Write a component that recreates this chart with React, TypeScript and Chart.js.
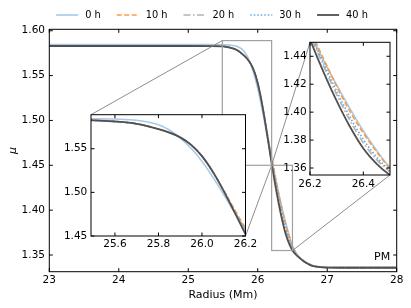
import React, { useEffect, useRef } from "react";
import { Chart, registerables } from "chart.js";

Chart.register(...registerables);

// ---------------- data ----------------
const RADIUS_MM = [23, 24, 25, 25.3, 25.5, 25.6, 25.7, 25.8, 25.85, 25.9, 25.95, 26.0, 26.05, 26.1, 26.15, 26.2, 26.25, 26.3, 26.35, 26.4, 26.45, 26.5, 26.55, 26.6, 26.65, 26.7, 26.75, 26.8, 26.9, 27.0, 27.5, 28.0];

const MU_0H = [1.5845, 1.5845, 1.5845, 1.5845, 1.5843, 1.584, 1.5826, 1.5775, 1.5715, 1.5625, 1.5505, 1.5355, 1.5175, 1.4975, 1.477, 1.4565, 1.4375, 1.4195, 1.4025, 1.3865, 1.3725, 1.3605, 1.3527, 1.3476, 1.3442, 1.3416, 1.3396, 1.3381, 1.3368, 1.3364, 1.3362, 1.3362];
const MU_10H = [1.5832, 1.5832, 1.5832, 1.5831, 1.5827, 1.5813, 1.5786, 1.5726, 1.5686, 1.5631, 1.5546, 1.5416, 1.5236, 1.5025, 1.48, 1.459, 1.4385, 1.4185, 1.4005, 1.385, 1.3715, 1.3598, 1.3522, 1.3473, 1.344, 1.3414, 1.3392, 1.3378, 1.3366, 1.3362, 1.336, 1.336];
const MU_20H = [1.5831, 1.5831, 1.5831, 1.583, 1.5826, 1.5812, 1.5785, 1.5725, 1.5685, 1.563, 1.5545, 1.5415, 1.5235, 1.5018, 1.478, 1.455, 1.4335, 1.4125, 1.394, 1.378, 1.366, 1.3572, 1.3513, 1.3472, 1.3439, 1.3413, 1.3391, 1.3377, 1.3365, 1.3361, 1.3359, 1.3359];
const MU_30H = [1.5831, 1.5831, 1.5831, 1.583, 1.5826, 1.5812, 1.5785, 1.5725, 1.5685, 1.563, 1.5545, 1.5415, 1.5235, 1.502, 1.4785, 1.4565, 1.4355, 1.415, 1.3965, 1.3805, 1.3678, 1.3582, 1.3516, 1.3472, 1.3439, 1.3413, 1.3391, 1.3377, 1.3365, 1.3361, 1.3359, 1.3359];
const MU_40H = [1.583, 1.583, 1.583, 1.5829, 1.5826, 1.5812, 1.5785, 1.5725, 1.5685, 1.563, 1.5545, 1.5415, 1.5235, 1.5015, 1.477, 1.452, 1.429, 1.408, 1.3895, 1.374, 1.363, 1.355, 1.3503, 1.3468, 1.3437, 1.3411, 1.339, 1.3376, 1.3364, 1.336, 1.3358, 1.3358];

const SERIES_LABELS = ["0 h", "10 h", "20 h", "30 h", "40 h"];
const SERIES_VALUES = [MU_0H, MU_10H, MU_20H, MU_30H, MU_40H];

const MAIN_X_TICKS = [23, 24, 25, 26, 27, 28];
const MAIN_Y_TICKS = [1.35, 1.4, 1.45, 1.5, 1.55, 1.6];
const LEFT_X_TICKS = [25.6, 25.8, 26.0, 26.2];
const LEFT_Y_TICKS = [1.45, 1.5, 1.55];
const RIGHT_X_TICKS = [26.2, 26.4];
const RIGHT_Y_TICKS = [1.36, 1.38, 1.4, 1.42, 1.44];

const MAIN_RANGE = { xMin: 23, xMax: 28, yMin: 1.3314, yMax: 1.6016 };
const LEFT_RANGE = { xMin: 25.49, xMax: 26.2, yMin: 1.45, yMax: 1.589 };
const RIGHT_RANGE = { xMin: 26.2, xMax: 26.5, yMin: 1.355, yMax: 1.45 };

// ---------------- styles ----------------
const COLORS = ["#a6c9ec", "#ff9a3c", "#b3b3b3", "#6aa6dc", "#505050"];
const DASHES: number[][] = [[], [5, 2.5], [7, 2.5, 1.5, 2.5], [1.5, 2], []];
const WIDTHS = [1.6, 1.6, 1.6, 1.6, 1.8];
const FONT = "DejaVu Sans";

type Spec = {
  main: boolean;
  range: { xMin: number; xMax: number; yMin: number; yMax: number };
  xTicks: number[];
  yTicks: number[];
  xDec: number;
  yDec: number;
  canvas: { x: number; y: number; w: number; h: number };
  pad: { top: number; right: number; left: number; bottom: number };
  leftW: number;
  bottomH: number;
  xPad: number;
  yPad: number;
};

const MAIN_SPEC: Spec = {
  main: true, range: MAIN_RANGE, xTicks: MAIN_X_TICKS, yTicks: MAIN_Y_TICKS, xDec: 0, yDec: 2,
  canvas: { x: 0, y: 0, w: 411, h: 308 },
  pad: { top: 29.3, right: 14.3, left: 0, bottom: 0 }, leftW: 49.3, bottomH: 36.3, xPad: 2.6, yPad: 4.3,
};
const LEFT_SPEC: Spec = {
  main: false, range: LEFT_RANGE, xTicks: LEFT_X_TICKS, yTicks: LEFT_Y_TICKS, xDec: 1, yDec: 2,
  canvas: { x: 55, y: 100, w: 207, h: 156 },
  pad: { top: 14.7, right: 16.5, left: 0, bottom: 0 }, leftW: 36, bottomH: 20, xPad: 1.6, yPad: 3.7,
};
const RIGHT_SPEC: Spec = {
  main: false, range: RIGHT_RANGE, xTicks: RIGHT_X_TICKS, yTicks: RIGHT_Y_TICKS, xDec: 1, yDec: 2,
  canvas: { x: 278, y: 30, w: 122, h: 165 },
  pad: { top: 12.3, right: 10, left: 0, bottom: 0 }, leftW: 32, bottomH: 20, xPad: 2.6, yPad: 3.3,
};

function boxOf(s: Spec) {
  return {
    left: s.canvas.x + s.leftW,
    top: s.canvas.y + s.pad.top,
    right: s.canvas.x + s.canvas.w - s.pad.right,
    bottom: s.canvas.y + s.canvas.h - s.bottomH,
  };
}

const TICK_LEN = 3.5;

function drawFrame(chart: any) {
  const { ctx, chartArea: a, scales } = chart;
  ctx.save();
  ctx.strokeStyle = "#000";
  ctx.lineWidth = 1;
  ctx.setLineDash([]);
  ctx.beginPath();
  for (const t of scales.x.ticks) {
    const px = scales.x.getPixelForValue(t.value);
    ctx.moveTo(px, a.bottom);
    ctx.lineTo(px, a.bottom - TICK_LEN);
    ctx.moveTo(px, a.top);
    ctx.lineTo(px, a.top + TICK_LEN);
  }
  for (const t of scales.y.ticks) {
    const py = scales.y.getPixelForValue(t.value);
    ctx.moveTo(a.left, py);
    ctx.lineTo(a.left + TICK_LEN, py);
    ctx.moveTo(a.right, py);
    ctx.lineTo(a.right - TICK_LEN, py);
  }
  ctx.stroke();
  ctx.strokeRect(a.left, a.top, a.right - a.left, a.bottom - a.top);
  ctx.restore();
}

function drawInsetMarks(chart: any) {
  const { ctx, scales } = chart;
  const x = scales.x;
  const y = scales.y;
  for (const spec of [LEFT_SPEC, RIGHT_SPEC]) {
    const r = spec.range;
    const x0 = x.getPixelForValue(r.xMin);
    const x1 = x.getPixelForValue(r.xMax);
    const y0 = y.getPixelForValue(r.yMax);
    const y1 = y.getPixelForValue(r.yMin);
    const b = boxOf(spec);
    ctx.save();
    ctx.setLineDash([]);
    ctx.strokeStyle = "#a0a0a0";
    ctx.lineWidth = 1.2;
    ctx.strokeRect(x0, y0, x1 - x0, y1 - y0);
    ctx.strokeStyle = "#808080";
    ctx.lineWidth = 0.9;
    ctx.beginPath();
    ctx.moveTo(x0, y0);
    ctx.lineTo(b.left, b.top);
    ctx.moveTo(x1, y1);
    ctx.lineTo(b.right, b.bottom);
    ctx.stroke();
    ctx.restore();
  }
}

const LEGEND_CENTER_X = 212;
const LEGEND_Y = 15;
const LEGEND_LINE = 22;
const LEGEND_GAP = 7;
const LEGEND_SPACING = 16;

function drawLegend(chart: any) {
  const { ctx } = chart;
  const ds = chart.data.datasets;
  ctx.save();
  ctx.font = `9.8px "${FONT}"`;
  ctx.textBaseline = "middle";
  ctx.textAlign = "left";
  const widths = ds.map((d: any) => LEGEND_LINE + LEGEND_GAP + ctx.measureText(d.label).width);
  const total = widths.reduce((s: number, w: number) => s + w, 0) + LEGEND_SPACING * (ds.length - 1);
  let cx = LEGEND_CENTER_X - total / 2;
  ds.forEach((d: any, i: number) => {
    ctx.strokeStyle = d.borderColor;
    ctx.lineWidth = d.borderWidth;
    ctx.setLineDash(d.borderDash || []);
    ctx.beginPath();
    ctx.moveTo(cx, LEGEND_Y);
    ctx.lineTo(cx + LEGEND_LINE, LEGEND_Y);
    ctx.stroke();
    ctx.setLineDash([]);
    ctx.fillStyle = "#000";
    ctx.fillText(d.label, cx + LEGEND_LINE + LEGEND_GAP, LEGEND_Y);
    cx += widths[i] + LEGEND_SPACING;
  });
  ctx.restore();
}

function drawPM(chart: any) {
  const { ctx, chartArea: a } = chart;
  ctx.save();
  ctx.font = `11px "${FONT}"`;
  ctx.fillStyle = "#000";
  ctx.textAlign = "right";
  ctx.textBaseline = "middle";
  ctx.fillText("PM", a.right - 6.5, a.bottom - 15);
  ctx.restore();
}

function buildConfig(spec: Spec): any {
  const datasets = SERIES_LABELS.map((label, i) => ({
    label,
    data: RADIUS_MM.map((r, j) => ({ x: r, y: SERIES_VALUES[i][j] })),
    borderColor: COLORS[i],
    borderWidth: WIDTHS[i],
    borderDash: DASHES[i],
    pointRadius: 0,
    fill: false,
    cubicInterpolationMode: "monotone",
    order: SERIES_LABELS.length - 1 - i,
  }));

  const plugin = {
    id: "decor",
    beforeDraw(chart: any) {
      if (!spec.main) {
        const a = chart.chartArea;
        const ctx = chart.ctx;
        ctx.save();
        ctx.fillStyle = "#fff";
        ctx.fillRect(a.left, a.top, a.right - a.left, a.bottom - a.top);
        ctx.restore();
      }
    },
    afterDatasetsDraw(chart: any) {
      if (spec.main) drawInsetMarks(chart);
      drawFrame(chart);
    },
    afterDraw(chart: any) {
      if (spec.main) {
        drawPM(chart);
        drawLegend(chart);
      }
    },
  };

  return {
    type: "line",
    data: { datasets },
    options: {
      responsive: false,
      animation: false,
      devicePixelRatio: 1,
      events: [],
      layout: { padding: spec.pad },
      plugins: { legend: { display: false }, tooltip: { enabled: false } },
      scales: {
        x: {
          type: "linear",
          min: spec.range.xMin,
          max: spec.range.xMax,
          afterBuildTicks: (s: any) => {
            s.ticks = spec.xTicks.map((v) => ({ value: v }));
          },
          afterFit: (s: any) => {
            s.height = spec.bottomH;
          },
          grid: { display: false, drawTicks: false },
          border: { display: false },
          ticks: {
            autoSkip: false,
            maxRotation: 0,
            padding: spec.xPad,
            color: "#000",
            font: { family: FONT, size: 10.5 },
            callback: (v: any) => Number(v).toFixed(spec.xDec),
          },
          title: spec.main
            ? { display: true, text: "Radius (Mm)", color: "#000", font: { family: FONT, size: 11 }, padding: { top: 0, bottom: 6.4 } }
            : { display: false },
        },
        y: {
          type: "linear",
          min: spec.range.yMin,
          max: spec.range.yMax,
          afterBuildTicks: (s: any) => {
            s.ticks = spec.yTicks.map((v) => ({ value: v }));
          },
          afterFit: (s: any) => {
            s.width = spec.leftW;
          },
          grid: { display: false, drawTicks: false },
          border: { display: false },
          ticks: {
            autoSkip: false,
            padding: spec.yPad,
            color: "#000",
            font: { family: FONT, size: 10.5 },
            callback: (v: any) => Number(v).toFixed(spec.yDec),
          },
          title: spec.main
            ? { display: true, text: "μ", color: "#000", font: { family: FONT, size: 11, style: "italic" }, padding: { top: 6.1, bottom: 0 } }
            : { display: false },
        },
      },
    },
    plugins: [plugin],
  };
}

export default function App() {
  const mainRef = useRef<HTMLCanvasElement>(null);
  const leftRef = useRef<HTMLCanvasElement>(null);
  const rightRef = useRef<HTMLCanvasElement>(null);

  useEffect(() => {
    const charts = [
      new Chart(mainRef.current as HTMLCanvasElement, buildConfig(MAIN_SPEC)),
      new Chart(leftRef.current as HTMLCanvasElement, buildConfig(LEFT_SPEC)),
      new Chart(rightRef.current as HTMLCanvasElement, buildConfig(RIGHT_SPEC)),
    ];
    return () => charts.forEach((c) => c.destroy());
  }, []);

  const canvasStyle = (s: Spec): React.CSSProperties => ({
    position: "absolute",
    left: s.canvas.x,
    top: s.canvas.y,
    width: s.canvas.w,
    height: s.canvas.h,
  });

  return (
    <div style={{ position: "absolute", left: 0, top: 0, width: 411, height: 308, background: "#fff", overflow: "hidden" }}>
      <canvas ref={mainRef} width={MAIN_SPEC.canvas.w} height={MAIN_SPEC.canvas.h} style={canvasStyle(MAIN_SPEC)} />
      <canvas ref={leftRef} width={LEFT_SPEC.canvas.w} height={LEFT_SPEC.canvas.h} style={canvasStyle(LEFT_SPEC)} />
      <canvas ref={rightRef} width={RIGHT_SPEC.canvas.w} height={RIGHT_SPEC.canvas.h} style={canvasStyle(RIGHT_SPEC)} />
    </div>
  );
}
